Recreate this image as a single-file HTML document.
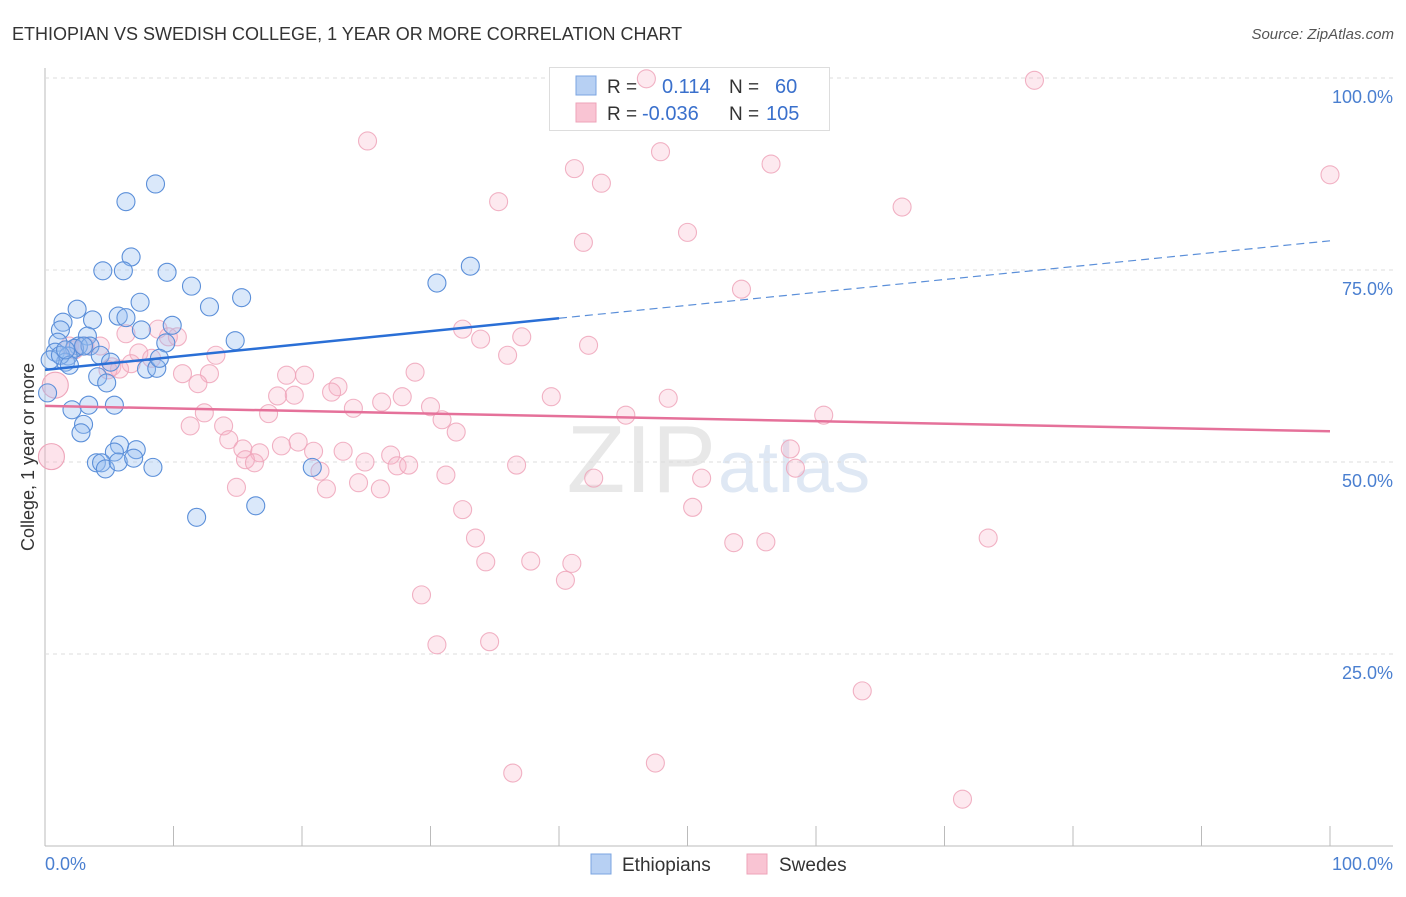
<!DOCTYPE html>
<html><head><meta charset="utf-8"><style>
body{margin:0;background:#fff;font-family:"Liberation Sans",sans-serif}
svg text{font-family:"Liberation Sans",sans-serif}
</style></head><body>
<svg id="c" width="1406" height="892" viewBox="0 0 1406 892">
<text x="12" y="40" font-size="18" fill="#333">ETHIOPIAN VS SWEDISH COLLEGE, 1 YEAR OR MORE CORRELATION CHART</text>
<text x="1394" y="39" font-size="15" fill="#555" font-style="italic" text-anchor="end">Source: ZipAtlas.com</text>
<text x="716" y="492" font-size="96" fill="#e8e8e8" font-family="Liberation Serif" text-anchor="end">ZIP</text>
<text x="718" y="492" font-size="72" fill="#dfe8f4">atlas</text>
<g id="grid"></g>
<g>
<rect x="549.5" y="67.5" width="280" height="63" fill="#fff" stroke="#ddd"/>
<rect x="576" y="76" width="20" height="19" fill="#b7d0f3" stroke="#7ba4e0"/>
<rect x="576" y="103" width="20" height="19" fill="#f9c4d3" stroke="#eea3b8"/>
<text x="607" y="93" font-size="19" fill="#333">R =</text>
<text x="662" y="93" font-size="20" fill="#3a70cc">0.114</text>
<text x="729" y="93" font-size="19" fill="#333">N =</text>
<text x="775" y="93" font-size="20" fill="#3a70cc">60</text>
<text x="607" y="120" font-size="19" fill="#333">R =</text>
<text x="642" y="120" font-size="20" fill="#3a70cc">-0.036</text>
<text x="729" y="120" font-size="19" fill="#333">N =</text>
<text x="766" y="120" font-size="20" fill="#3a70cc">105</text>
</g>
<g id="pts"></g><g id="lines"></g>
<text transform="translate(34,457) rotate(-90)" font-size="18" fill="#333" text-anchor="middle">College, 1 year or more</text>
<text x="45" y="870" font-size="18" fill="#4a7fd0">0.0%</text>
<text x="1393" y="870" font-size="18" fill="#4a7fd0" text-anchor="end">100.0%</text>
<g>
<rect x="591" y="854" width="20" height="20" fill="#b7d0f3" stroke="#7ba4e0"/>
<text x="622" y="871" font-size="19" fill="#333">Ethiopians</text>
<rect x="747" y="854" width="20" height="20" fill="#f9c4d3" stroke="#eea3b8"/>
<text x="779" y="871" font-size="19" fill="#333">Swedes</text>
</g>
</svg>
<script>
const yTicks=[100,75,50,25];
const yTickLabels=["100.0%","75.0%","50.0%","25.0%"];
const xTicks=[0,10,20,30,40,50,60,70,80,90,100];
const blueX=[8.6,6.3,6.7,4.5,6.1,9.5,11.4,30.5,33.1,15.3,7.4,12.8,2.5,5.7,6.3,1.4,3.7,9.9,7.5,3.3,1.2,14.8,1.0,9.4,2.6,2.3,3.5,4.3,0.8,1.8,1.6,5.1,7.9,8.7,4.1,4.8,0.2,3.4,2.1,5.4,3.0,2.8,5.8,7.1,5.4,4.0,4.4,4.7,5.7,6.9,8.4,20.8,11.8,16.4,0.4,1.2,1.9,8.9,3.0,1.6];
const blueY=[86.2,83.9,76.7,74.9,74.9,74.7,72.9,73.3,75.5,71.4,70.8,70.2,69.9,69.0,68.8,68.2,68.5,67.8,67.2,66.4,67.2,65.8,65.6,65.5,65.1,64.8,65.1,63.9,64.3,63.8,63.0,63.0,62.1,62.2,61.1,60.3,59.0,57.4,56.8,57.4,54.9,53.8,52.2,51.6,51.3,49.9,49.9,49.1,50.0,50.5,49.3,49.3,42.8,44.3,63.3,63.9,62.6,63.5,65.1,64.6];
const pinkX=[46.8,77.0,25.1,41.2,47.9,56.5,43.3,100,35.3,66.7,50.0,41.9,54.2,32.5,33.9,37.1,42.3,36.0,8.8,10.3,6.3,9.6,4.3,1.9,13.3,7.3,8.3,5.2,6.7,10.7,12.8,11.9,5.8,18.8,20.2,28.8,22.8,22.3,18.1,19.4,27.8,39.4,48.5,60.6,45.2,17.4,12.4,24.0,26.2,30.0,30.9,32.0,11.3,13.9,14.3,15.4,16.7,19.7,18.4,20.9,23.2,26.9,15.6,16.3,24.9,27.4,28.3,21.4,31.2,36.7,58.0,58.4,42.7,51.1,14.9,21.9,24.4,26.1,32.5,50.4,33.5,34.3,37.8,41.0,40.5,53.6,56.1,73.4,29.3,30.5,34.6,63.6,36.4,47.5,71.4,3.1,4.9,2.3];
const pinkY=[99.9,99.7,91.8,88.2,90.4,88.8,86.3,87.4,83.9,83.2,79.9,78.6,72.5,67.3,66.0,66.3,65.2,63.9,67.3,66.3,66.7,66.3,65.1,65.1,63.9,64.2,63.5,62.4,62.8,61.5,61.5,60.2,62.1,61.3,61.3,61.7,59.8,59.1,58.6,58.7,58.5,58.5,58.3,56.1,56.1,56.3,56.4,57.0,57.8,57.2,55.5,53.9,54.7,54.7,52.9,51.7,51.2,52.6,52.1,51.4,51.4,50.9,50.3,49.9,50.0,49.5,49.6,48.8,48.3,49.6,51.7,49.2,47.9,47.9,46.7,46.5,47.3,46.5,43.8,44.1,40.1,37.0,37.1,36.8,34.6,39.5,39.6,40.1,32.7,26.2,26.6,20.2,9.5,10.8,6.1,65.1,62.0,64.6];
const pinkBigX=[0.5,0.8];
const pinkBigY=[50.7,60.0];
const blueTrend=[62.0,0.168];
const pinkTrend=[57.3,-0.033];
const X0=45,X1=1330,Y0=846,Y100=78;
const sx=v=>X0+(X1-X0)*v/100, sy=v=>Y0-(Y0-Y100)*v/100;
const NS="http://www.w3.org/2000/svg";
function mk(t,a,p){const e=document.createElementNS(NS,t);for(const k in a)e.setAttribute(k,a[k]);p.appendChild(e);return e;}
const g=document.getElementById('grid');
let ax=mk('line',{x1:45,y1:68,x2:45,y2:846,stroke:'#bbb'},g);


ax=mk('line',{x1:45,y1:846,x2:1393,y2:846,stroke:'#bbb'},g);


yTicks.forEach((t,i)=>{
 const l=mk('line',{x1:45,y1:sy(t),x2:1393,y2:sy(t),stroke:'#ddd','stroke-dasharray':'4,4'},g);
 
 
 const tx=mk('text',{x:1393,y:sy(t)+25,'font-size':18,fill:'#4a7fd0','text-anchor':'end'},g);
 tx.textContent=yTickLabels[i];
 
 
});
xTicks.forEach(t=>{
 const l=mk('line',{x1:sx(t),y1:826,x2:sx(t),y2:846,stroke:'#bbb'},g);
 
 
});
const P=document.getElementById('pts');
pinkX.forEach((x,i)=>{
 const c=mk('circle',{cx:sx(x),cy:sy(pinkY[i]),r:9,fill:'rgba(248,175,198,0.28)',stroke:'#eea5ba','stroke-width':1.1,'stroke-opacity':0.85},P);
 
 
});
pinkBigX.forEach((x,i)=>{
 const c=mk('circle',{cx:sx(x),cy:sy(pinkBigY[i]),r:13,fill:'rgba(248,175,198,0.35)',stroke:'#eea5ba','stroke-width':1.1},P);
 
 
});
blueX.forEach((x,i)=>{
 const c=mk('circle',{cx:sx(x),cy:sy(blueY[i]),r:9,fill:'rgba(150,190,240,0.35)',stroke:'#5b8fd9','stroke-width':1.1},P);
 
 
});
const L=document.getElementById('lines');
const bt=x=>blueTrend[0]+blueTrend[1]*x, pt=x=>pinkTrend[0]+pinkTrend[1]*x;
let a=mk('line',{x1:sx(0),y1:sy(bt(0)),x2:sx(40),y2:sy(bt(40)),stroke:'#2a6fd6','stroke-width':2.5},L);


a=mk('line',{x1:sx(40),y1:sy(bt(40)),x2:sx(100),y2:sy(bt(100)),stroke:'#5b8fd9','stroke-width':1.2,'stroke-dasharray':'8,5'},L);


a=mk('line',{x1:sx(0),y1:sy(pt(0)),x2:sx(100),y2:sy(pt(100)),stroke:'#e5719a','stroke-width':2.5},L);


</script>
</body></html>
